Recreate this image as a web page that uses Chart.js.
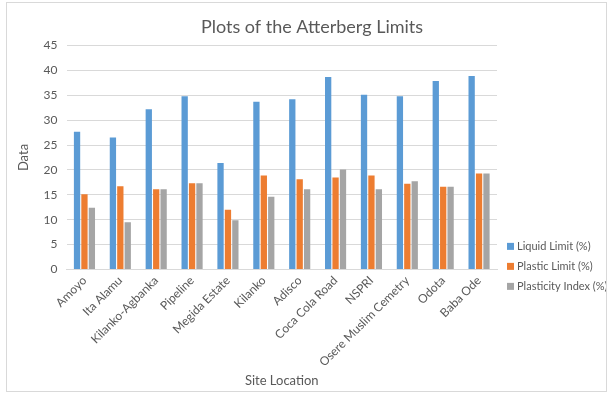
<!DOCTYPE html>
<html>
<head>
<meta charset="utf-8">
<script src="https://cdn.jsdelivr.net/npm/chart.js@4"></script>
<style>
  html, body { margin: 0; padding: 0; background: #fff; }
  #wrap { position: relative; width: 610px; height: 393px; }
  #frame { position: absolute; left: 6px; top: 2px; width: 601px; height: 390px;
           border: 1px solid #d9d9d9; box-sizing: border-box; pointer-events: none; }
  canvas { position: absolute; left: 0; top: 0; }
</style>
</head>
<body>
<div id="wrap">
  <canvas id="c" width="610" height="393"></canvas>
  <div id="frame"></div>
</div>
<script>
// Sampling sites along the x axis
const sites = ['Amoyo', 'Ita Alamu', 'Kilanko-Agbanka', 'Pipeline', 'Megida Estate', 'Kilanko',
  'Adisco', 'Coca Cola Road', 'NSPRI', 'Osere Muslim Cemetry', 'Odota', 'Baba Ode'];

// Atterberg limit results per site (%)
const liquidLimit    = [27.7, 26.5, 32.2, 34.8, 21.4, 33.7, 34.2, 38.7, 35.1, 34.8, 37.9, 38.9];
const plasticLimit   = [15.1, 16.7, 16.1, 17.3, 12.0, 18.9, 18.1, 18.5, 18.9, 17.2, 16.6, 19.3];
const plasticityIdx  = [12.4,  9.5, 16.1, 17.3,  9.9, 14.6, 16.1, 20.1, 16.1, 17.7, 16.6, 19.3];

const seriesNames = ['Liquid Limit (%)', 'Plastic Limit (%)', 'Plasticity Index (%)'];
const seriesColors = ['#5B9BD5', '#ED7D31', '#A5A5A5'];

const yTicks = { min: 0, max: 45, step: 5 };

const textColor = '#595959';
const fontFamily = 'Lato, "Liberation Sans", sans-serif';

// Legend stacked at the lower right, next to the plot area
const sideLegend = {
  id: 'sideLegend',
  afterDraw(chart) {
    const { ctx, chartArea } = chart;
    ctx.save();
    ctx.font = '11px ' + fontFamily;
    ctx.textBaseline = 'middle';
    chart.data.datasets.forEach((ds, i) => {
      const y = chartArea.bottom - 23 + i * 20;
      const x = chartArea.right + 10;
      ctx.fillStyle = ds.backgroundColor;
      ctx.fillRect(x, y - 3.5, 7, 7);
      ctx.fillStyle = textColor;
      ctx.fillText(ds.label, x + 10, y);
    });
    ctx.restore();
  }
};

new Chart(document.getElementById('c'), {
  type: 'bar',
  data: {
    labels: sites,
    datasets: [liquidLimit, plasticLimit, plasticityIdx].map((vals, i) => ({
      label: seriesNames[i],
      data: vals,
      backgroundColor: seriesColors[i],
      categoryPercentage: 0.62,
      barPercentage: 0.85
    }))
  },
  options: {
    responsive: false,
    animation: false,
    layout: { padding: { left: 14, right: 0, top: 0, bottom: 4 } },
    plugins: {
      legend: { display: false },
      tooltip: { enabled: false },
      title: {
        display: true,
        text: 'Plots of the Atterberg Limits',
        color: textColor,
        font: { family: fontFamily, size: 18, weight: 'normal' },
        padding: { top: 16, bottom: 8 }
      }
    },
    scales: {
      x: {
        grid: { display: false, drawTicks: false },
        border: { color: '#d9d9d9' },
        ticks: {
          color: textColor,
          font: { family: fontFamily, size: 12 },
          minRotation: 45, maxRotation: 45,
          padding: 4,
          autoSkip: false
        },
        title: {
          display: true,
          text: 'Site Location',
          color: textColor,
          font: { family: fontFamily, size: 13 },
          padding: { top: 0, bottom: 0 }
        }
      },
      y: {
        min: yTicks.min, max: yTicks.max,
        grid: { color: '#d9d9d9', drawTicks: false },
        border: { display: false },
        ticks: {
          stepSize: yTicks.step,
          color: textColor,
          font: { family: fontFamily, size: 12 },
          padding: 9
        },
        title: {
          display: true,
          text: 'Data',
          color: textColor,
          font: { family: fontFamily, size: 13 },
          padding: { top: 2, bottom: 3 }
        }
      },
      // empty right-hand band that leaves room for the legend
      legendSpace: {
        type: 'linear',
        position: 'right',
        display: true,
        grid: { display: false, drawTicks: false },
        border: { display: false },
        ticks: { display: false },
        afterFit(scale) { scale.width = 113; }
      }
    }
  },
  plugins: [sideLegend]
});
</script>
</body>
</html>
